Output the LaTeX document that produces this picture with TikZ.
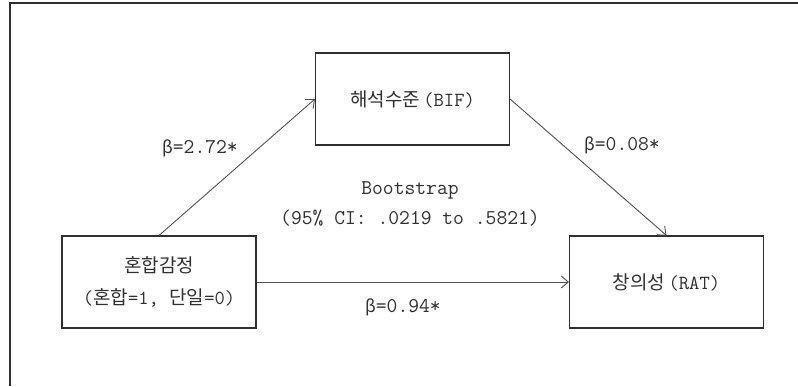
\documentclass[tikz,border=0pt]{standalone}
\usepackage{fontspec}
\newfontfamily\kr{Noto Sans CJK KR}[Scale=1.0]
\usetikzlibrary{arrows.meta}
\definecolor{ink}{HTML}{303030}
\definecolor{wire}{HTML}{505050}
\newcommand{\krt}[1]{{\kr\fontsize{19}{22}\selectfont #1}}
\newcommand{\lt}[1]{{\ttfamily\fontsize{20}{22}\selectfont #1}}
\newcommand{\bet}{{\kr\fontsize{17}{20}\selectfont β}}
\begin{document}
\begin{tikzpicture}[x=1pt,y=-1pt,
  box/.style={draw=ink,line width=1.1pt,minimum width=194pt,minimum height=92pt,inner sep=0pt,text=ink,align=center},
  conn/.style={draw=wire,line width=0.9pt,-{Straight Barb[length=7pt,width=12pt,line width=0.9pt]}},
  lab/.style={text=ink,inner sep=0pt,font=\ttfamily\fontsize{21}{24}\selectfont}]
\useasboundingbox (0,0) rectangle (798,386);
\draw[ink,line width=1.4pt] (798,3) -- (10,3) -- (10,386);
\node[box] (top) at (412.5,99) {\krt{해석수준} \lt{(BIF)}};
\node[box] (left) at (159,282) {\krt{혼합감정}\\[14pt]\lt{(}\krt{혼합}\lt{=1, }\krt{단일}\lt{=0)}};
\node[box] (right) at (666.5,282) {\krt{창의성} \lt{(RAT)}};
\draw[conn] (left.north) -- (top.west);
\draw[conn] (top.east) -- (right.north);
\draw[conn] (left.east) -- (right.west);
\node[lab] (b1) at (200,148) {\bet=2.72*};
\node[lab] (b2) at (622,145) {\bet=0.08*};
\node[lab] (bs) at (410,190) {Bootstrap};
\node[lab] (ci) at (410,218) {(95\% CI: .0219 to .5821)};
\node[lab] (b3) at (403,307) {\bet=0.94*};
\end{tikzpicture}
\end{document}
